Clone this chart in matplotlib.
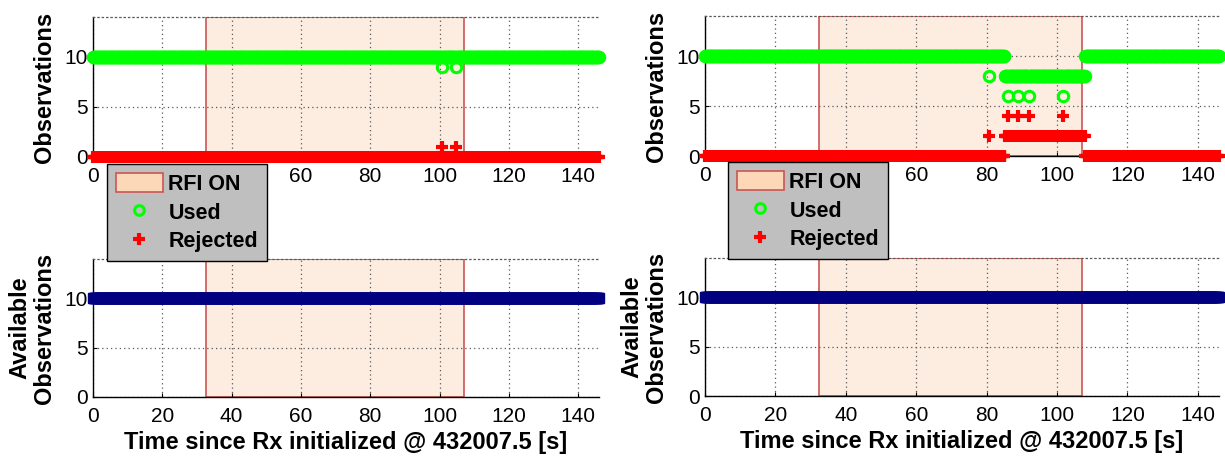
import numpy as np
import matplotlib
matplotlib.use("Agg")
import matplotlib.pyplot as plt
from matplotlib.patches import Patch
from matplotlib.lines import Line2D

plt.rcParams['font.family'] = ['Liberation Sans', 'DejaVu Sans']

# ---------------- data ----------------
EPOCHS = np.round(np.arange(0, 146.01, 0.2), 1)   # receiver epochs (5 Hz) [s]
RFI_ON = (32.5, 107.0)                             # RFI interval [s]
X_TICKS = [0, 20, 40, 60, 80, 100, 120, 140]
Y_TICKS = [0, 5, 10]

# runs: (first epoch [s], last epoch [s], number of observations)
L_USED_RUNS = [(0, 146, 10), (100.8, 100.8, 9), (104.8, 104.8, 9)]
L_REJ_RUNS = [(0, 146, 0), (100.8, 100.8, 1), (104.8, 104.8, 1)]
L_AVAIL_RUNS = [(0, 146, 10)]

R_USED_RUNS = [(0, 85.0, 10), (80.8, 80.8, 8), (85.2, 107.8, 8),
               (86.0, 86.0, 6), (89.0, 89.0, 6), (92.0, 92.0, 6), (101.8, 101.8, 6),
               (108.0, 146, 10)]
R_REJ_RUNS = [(0, 85.0, 0), (80.8, 80.8, 2), (85.2, 107.8, 2),
              (86.0, 86.0, 4), (89.0, 89.0, 4), (92.0, 92.0, 4), (101.8, 101.8, 4),
              (108.0, 146, 0)]
R_AVAIL_RUNS = [(0, 146, 10)]


def expand(runs):
    """Later runs overwrite earlier ones."""
    vals = np.zeros(len(EPOCHS))
    for a, b, v in runs:
        vals[(EPOCHS >= a - 1e-6) & (EPOCHS <= b + 1e-6)] = v
    return vals


GREEN = '#00ff00'
RED = '#ff0000'
NAVY = '#000080'
PATCH_FACE = '#fdece0'
PATCH_EDGE = '#cc5555'

fig = plt.figure(figsize=(12.25, 4.66), dpi=100)

W, H = 1225.0, 466.0
def rect(x0, x1, y0, y1):
    return [x0 / W, 1 - y1 / H, (x1 - x0) / W, (y1 - y0) / H]

ax_tl = fig.add_axes(rect(93, 599, 17, 157))
ax_tr = fig.add_axes(rect(705, 1219, 16, 156))
ax_bl = fig.add_axes(rect(93, 599, 259, 397))
ax_br = fig.add_axes(rect(705, 1219, 258, 396))


def style(ax, ylabel, xlabel=None, ylabelpad=6):
    ax.set_xlim(0, 146)
    ax.set_ylim(0, 14)
    ax.set_xticks(X_TICKS)
    ax.set_yticks(Y_TICKS)
    ax.set_axisbelow('line')
    ax.grid(True, linestyle=(0, (1, 2.5)), color='0.35', linewidth=0.9)
    ax.tick_params(direction='in', length=3, width=0.8, labelsize=15)
    ax.tick_params(axis='x', pad=7.5)
    ax.tick_params(axis='y', pad=4)
    for s in ('left', 'bottom'):
        ax.spines[s].set_linewidth(1.0)
        ax.spines[s].set_color('black')
    ax.spines['right'].set_visible(False)
    ax.spines['top'].set_linestyle((0, (1, 2.5)))
    ax.spines['top'].set_color('0.35')
    ax.spines['top'].set_linewidth(0.9)
    ax.axvspan(RFI_ON[0], RFI_ON[1], ymin=0, ymax=1, facecolor=PATCH_FACE,
               edgecolor=PATCH_EDGE, linewidth=1.2, zorder=1)
    ax.set_ylabel(ylabel, fontsize=17, fontweight='bold', labelpad=ylabelpad,
                  linespacing=1.1)
    if xlabel:
        ax.set_xlabel(xlabel, fontsize=17, fontweight='bold', labelpad=3)


for ax, used, rej in ((ax_tl, L_USED_RUNS, L_REJ_RUNS), (ax_tr, R_USED_RUNS, R_REJ_RUNS)):
    style(ax, 'Observations', ylabelpad=6)
    ax.plot(EPOCHS, expand(used), linestyle='none', marker='o', ms=7.5, mew=2.2,
            mfc='none', mec=GREEN, zorder=3, clip_on=False)
    ax.plot(EPOCHS, expand(rej), linestyle='none', marker='+', ms=8, mew=3,
            color=RED, zorder=3, clip_on=False)

xl = 'Time since Rx initialized @ 432007.5 [s]'
for ax, avail in ((ax_bl, L_AVAIL_RUNS), (ax_br, R_AVAIL_RUNS)):
    style(ax, 'Available\nObservations', xl, ylabelpad=6)
    ax.plot(EPOCHS, expand(avail), linestyle='-', lw=3, marker='s', ms=7,
            color=NAVY, zorder=3, clip_on=False)

handles = [Patch(facecolor='#fcd7b8', edgecolor=PATCH_EDGE, linewidth=1.2),
           Line2D([], [], linestyle='none', marker='o', ms=7, mew=2.2, mfc='none', mec=GREEN),
           Line2D([], [], linestyle='none', marker='+', ms=9, mew=3, color=RED)]
labels = ['RFI ON', 'Used', 'Rejected']

for x0, y0 in ((107, 164), (728, 162)):
    leg = fig.legend(handles, labels, loc='upper left',
                     bbox_to_anchor=(x0 / W, 1 - y0 / H), borderaxespad=0,
                     prop={'weight': 'bold', 'size': 15.5}, fancybox=False,
                     framealpha=1, facecolor='#bfbfbf', edgecolor='black',
                     handlelength=2.2, handleheight=1.0, handletextpad=0.25,
                     labelspacing=0.32, borderpad=0.4)
    leg.get_frame().set_linewidth(1.0)

fig.savefig('out.png', dpi=100)
